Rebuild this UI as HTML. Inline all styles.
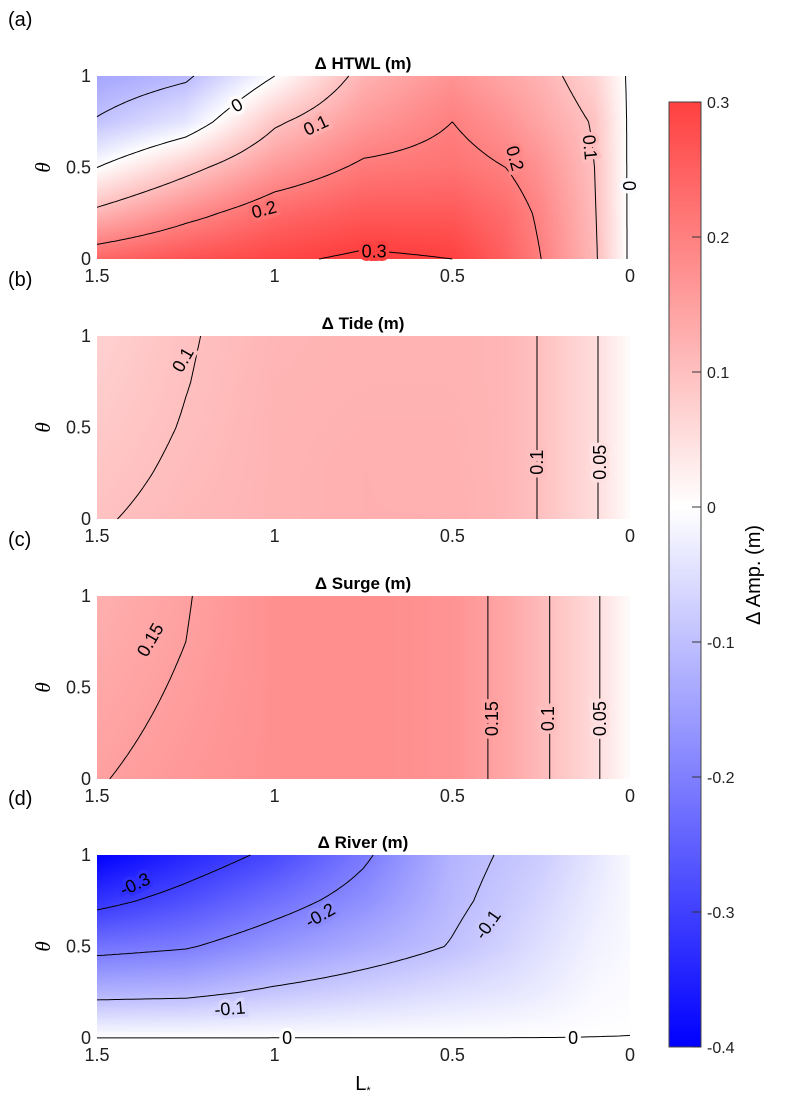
<!DOCTYPE html>
<html><head><meta charset="utf-8">
<style>
body{margin:0;background:#fff;width:785px;height:1105px;overflow:hidden;position:relative;font-family:"Liberation Sans",Arial,sans-serif}
canvas{position:absolute}
svg{position:absolute;left:0;top:0}
</style></head>
<body>
<canvas id="c0" width="533" height="183" style="left:97px;top:76px"></canvas>
<canvas id="c1" width="533" height="183" style="left:97px;top:336px"></canvas>
<canvas id="c2" width="533" height="183" style="left:97px;top:596px"></canvas>
<canvas id="c3" width="533" height="183" style="left:97px;top:855px"></canvas>
<svg id="ov" width="785" height="1105">
 <defs><linearGradient id="cbg" x1="0" y1="0" x2="0" y2="1">
  <stop offset="0" stop-color="rgb(255,64,64)"/>
  <stop offset="0.4286" stop-color="#fff"/>
  <stop offset="1" stop-color="rgb(0,0,255)"/>
 </linearGradient></defs>
 <rect x="669" y="102" width="32" height="945" fill="url(#cbg)" stroke="#444" stroke-width="1"/>
 <text x="760" y="575" font-size="20" text-anchor="middle" transform="rotate(-90 760 575)">Δ Amp. (m)</text>
 <text x="363" y="1090" font-size="20" text-anchor="middle">L<tspan font-size="11" dy="4">*</tspan></text>
</svg>
<script>
const Ls=[1.5,1.25,1,0.75,0.5,0.35,0.25,0.1,0];
const THs=[0,0.25,0.5,0.75,1];
const htwl=[[.24,.115,0,-.095,-.14],[.27,.18,.08,-.04,-.11],[.29,.235,.16,.09,0],[.31,.26,.21,.16,.12],[.30,.26,.22,.2,.17],[.25,.23,.2,.17,.14],[.2,.19,.17,.14,.12],[.11,.105,.1,.095,.07],[-.01,-.01,-.01,-.01,-.01]];
const tide=[[.097,.09,.084,.078,.072],[.11,.106,.102,.099,.097],[.118,.118,.118,.117,.115],[.125,.125,.122,.12,.12],[.125,.123,.122,.12,.12],[.115,.115,.115,.115,.115],[.098,.098,.098,.098,.098],[.055,.055,.055,.055,.055],[.005,.005,.005,.005,.005]];
const surge=[[.148,.142,.136,.13,.125],[.162,.158,.154,.15,.148],[.175,.175,.175,.175,.175],[.178,.178,.178,.178,.178],[.17,.17,.17,.17,.17],[.14,.14,.14,.14,.14],[.108,.108,.108,.108,.108],[.058,.058,.058,.058,.058],[.005,.005,.005,.005,.005]];
const river=[[.0003,-.12,-.22,-.32,-.4],[.0003,-.115,-.205,-.275,-.34],[.0003,-.09,-.165,-.225,-.285],[.0003,-.07,-.13,-.175,-.21],[.0003,-.05,-.097,-.11,-.118],[.0003,-.04,-.07,-.085,-.095],[.0003,-.03,-.05,-.065,-.08],[.0003,-.01,-.02,-.03,-.04],[.0003,-.005,-.01,-.01,-.01]];
const titles=["Δ HTWL (m)","Δ Tide (m)","Δ Surge (m)","Δ River (m)"];
const panelLetters=["(a)","(b)","(c)","(d)"];
const levels=[[-0.1,0,0.1,0.2,0.3],[0.05,0.1],[0.05,0.1,0.15],[-0.3,-0.2,-0.1,0]];
const labelsA=[[0,1.106,.84,-30],[0.1,.884,.73,-25],[0.2,1.03,.27,-15],[0.3,.72,.04,0],[0.2,.324,.55,75],[0.1,.113,.61,85],[0,.003,.4,90]];
const labelsB=[[0.1,1.258,.87,-60],[0.1,.262,.31,-90],[0.05,.084,.31,-90]];
const labelsC=[[0.15,1.35,.76,-60],[0.15,.388,.33,-90],[0.1,.231,.33,-90],[0.05,.084,.33,-90]];
const labelsD=[[-0.3,1.393,.84,-25],[-0.2,.872,.67,-30],[-0.1,.4,.62,-55],[-0.1,1.126,.16,-5],[0,.965,0.0,0],[0,.16,0.0,0]];
const cbTicks=[0.3,0.2,0.1,0,-0.1,-0.2,-0.3,-0.4];
const xTicks=[1.5,1,0.5,0];
const yTicks=[0,0.5,1];
const panels=[htwl,tide,surge,river];
const allLabels=[labelsA,labelsB,labelsC,labelsD];
const tops=[76,336,596,855];
const PX=97,PW=533,PH=183;
const NS="http://www.w3.org/2000/svg";
const ov=document.getElementById('ov');
function xs(L){return PX+(1.5-L)/1.5*PW;}
function ys(t,top){return top+PH-t*PH;}
function field(g,L,t){
  let i=0;while(i<Ls.length-2&&L<Ls[i+1])i++;
  let fa=(Ls[i]-L)/(Ls[i]-Ls[i+1]);fa=Math.max(0,Math.min(1,fa));
  let j=Math.min(3,Math.floor(t/0.25));let fb=(t-THs[j])/0.25;fb=Math.max(0,Math.min(1,fb));
  const a=g[i][j]*(1-fb)+g[i][j+1]*fb,b=g[i+1][j]*(1-fb)+g[i+1][j+1]*fb;
  return a*(1-fa)+b*fa;
}
function col(v){
  if(v>=0){const t=Math.min(1,v/0.3);return [255,Math.round(255-191*t),Math.round(255-191*t)];}
  const t=Math.min(1,-v/0.4);return [Math.round(255-255*t),Math.round(255-255*t),255];
}
function mk(tag,attrs){const e=document.createElementNS(NS,tag);for(const k in attrs)e.setAttribute(k,attrs[k]);ov.appendChild(e);return e;}
panels.forEach((g,p)=>{
  const top=tops[p];
  const cv=document.getElementById('c'+p),ctx=cv.getContext('2d');
  const im=ctx.createImageData(PW,PH);
  for(let y=0;y<PH;y++)for(let x=0;x<PW;x++){
    const L=1.5-(x+0.5)/PW*1.5,t=1-(y+0.5)/PH;
    const c=col(field(g,L,t));const k=(y*PW+x)*4;
    im.data[k]=c[0];im.data[k+1]=c[1];im.data[k+2]=c[2];im.data[k+3]=255;
  }
  ctx.putImageData(im,0,0);
  const NX=150,NY=60;
  const val=[];for(let i=0;i<=NX;i++){val.push([]);for(let j=0;j<=NY;j++)val[i].push(field(g,1.5-1.5*i/NX,j/NY));}
  levels[p].forEach(lv=>{
    let d='';
    for(let i=0;i<NX;i++)for(let j=0;j<NY;j++){
      const v=[val[i][j],val[i+1][j],val[i+1][j+1],val[i][j+1]];
      const pc=[[i,j],[i+1,j],[i+1,j+1],[i,j+1]];
      const pts=[];
      for(let e=0;e<4;e++){const a=v[e],b=v[(e+1)%4];
        if((a<lv)!==(b<lv)){const f=(lv-a)/(b-a);const P=pc[e],Q=pc[(e+1)%4];
          const ii=P[0]+(Q[0]-P[0])*f,jj=P[1]+(Q[1]-P[1])*f;
          pts.push([xs(1.5-1.5*ii/NX),ys(jj/NY,top)]);}}
      for(let k=0;k+1<pts.length;k+=2)d+='M'+pts[k][0].toFixed(1)+' '+pts[k][1].toFixed(1)+'L'+pts[k+1][0].toFixed(1)+' '+pts[k+1][1].toFixed(1);
    }
    const pth=mk('path',{d:d,stroke:'#000','stroke-width':1,fill:'none'});
    
    
  });
  allLabels[p].forEach(lb=>{
    const x=xs(lb[1]),y=ys(lb[2],top);const c=col(field(g,lb[1],lb[2]));
    const t=mk('text',{x:x,y:y+6,'font-size':18,'text-anchor':'middle',transform:'rotate('+lb[3]+' '+x+' '+y+')',stroke:'rgb('+c.join(',')+')','stroke-width':7,'paint-order':'stroke',fill:'#000'});
    t.textContent=String(lb[0]);
    
    
  });
  const tt=mk('text',{x:363,y:top-7,'font-size':17,'font-weight':'bold','text-anchor':'middle'});
  tt.textContent=titles[p];
  
  
  const pl=mk('text',{x:8,y:top-50,'font-size':20});
  pl.textContent=panelLetters[p];
  
  
  xTicks.forEach(v=>{
    const t=mk('text',{x:xs(v),y:top+PH+23,'font-size':18,'text-anchor':'middle',fill:'#222'});
    t.textContent=String(v);
    
    
  });
  yTicks.forEach(v=>{
    const t=mk('text',{x:PX-6,y:ys(v,top)+6,'font-size':18,'text-anchor':'end',fill:'#222'});
    t.textContent=String(v);
    
    
  });
  const yc=ys(0.5,top);
  const yl=mk('text',{x:43,y:yc+7,'font-size':21,'font-style':'italic','font-family':'Liberation Serif, serif','text-anchor':'middle',transform:'rotate(-90 43 '+yc+')'});
  yl.textContent='θ';
  
  
});
cbTicks.forEach(v=>{
  const y=102+(0.3-v)/0.7*945;
  const l=mk('line',{x1:692,x2:701,y1:y,y2:y,stroke:'#333'});
  
  
  const t=mk('text',{x:707,y:y+6,'font-size':16,fill:'#222'});
  t.textContent=String(v);
  
  
});
</script>
</body></html>
